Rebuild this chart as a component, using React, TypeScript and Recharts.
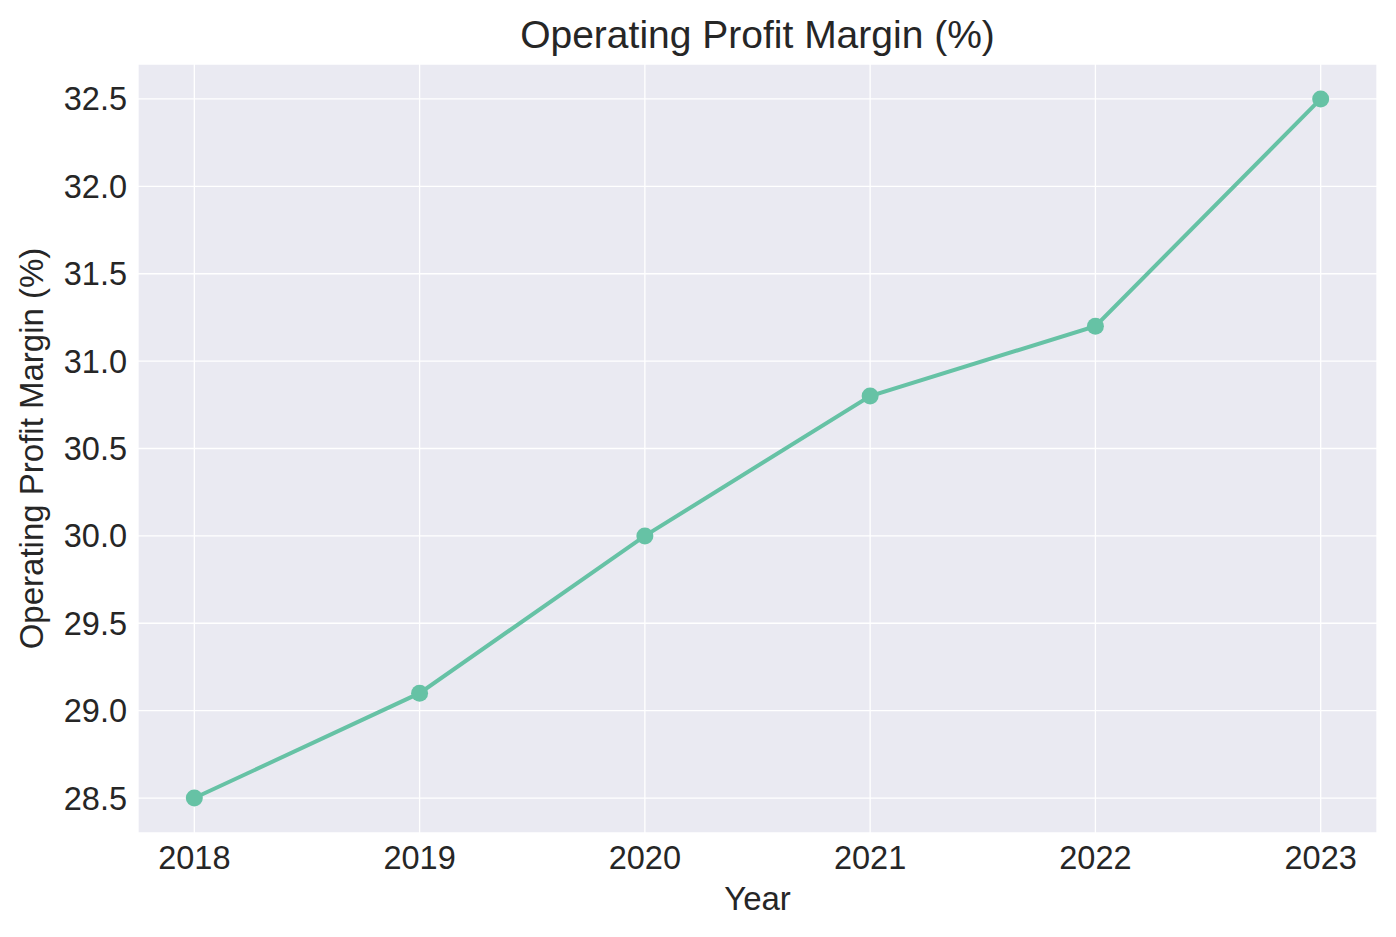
import React from 'react';
import { LineChart, Line, XAxis, YAxis, CartesianGrid } from 'recharts';

if (typeof document !== 'undefined') {
  document.body.style.margin = '0';
}

const years = [2018, 2019, 2020, 2021, 2022, 2023];
const margins = [28.5, 29.1, 30.0, 30.8, 31.2, 32.5];
const yTicks = [28.5, 29.0, 29.5, 30.0, 30.5, 31.0, 31.5, 32.0, 32.5];
const title = 'Operating Profit Margin (%)';
const xLabel = 'Year';
const yLabel = 'Operating Profit Margin (%)';

const data = years.map((y, i) => ({ year: y, value: margins[i] }));

const FONT = '"Liberation Sans", Arial, sans-serif';
const TEXT = '#262626';
const LINE = '#66c2a5';

export default function App() {
  return (
    <div style={{ width: 1396, height: 937, background: '#fff' }}>
      <LineChart
        width={1396}
        height={937}
        data={data}
        margin={{ top: 64, right: 19, left: 0, bottom: 0 }}
      >
        <CartesianGrid stroke="#ffffff" strokeWidth={1.3} fill="#eaeaf2" fillOpacity={1} />
        <XAxis
          dataKey="year"
          type="number"
          domain={[2017.75, 2023.25]}
          ticks={years}
          allowDataOverflow
          height={104}
          axisLine={false}
          tickLine={false}
          tickSize={0}
          tickMargin={13}
          tick={{ fill: TEXT, fontSize: 32.5, fontFamily: FONT }}
          label={{ value: xLabel, position: 'insideBottom', offset: 27, fill: TEXT, fontSize: 33, fontFamily: FONT }}
        />
        <YAxis
          type="number"
          domain={[28.3, 32.7]}
          ticks={yTicks}
          allowDataOverflow
          width={138}
          axisLine={false}
          tickLine={false}
          tickSize={0}
          tickMargin={11}
          tickFormatter={(v: number) => v.toFixed(1)}
          tick={{ fill: TEXT, fontSize: 32.5, fontFamily: FONT }}
          label={{ value: yLabel, angle: -90, position: 'insideLeft', offset: 31, fill: TEXT, fontSize: 33, fontFamily: FONT, style: { textAnchor: 'middle' } }}
        />
        <Line
          dataKey="value"
          stroke={LINE}
          strokeWidth={4}
          dot={{ r: 8.5, fill: LINE, stroke: LINE, strokeWidth: 0 }}
          activeDot={false}
          isAnimationActive={false}
        />
        <text x={757.5} y={48} textAnchor="middle" fill={TEXT} fontSize={39} fontFamily={FONT}>
          {title}
        </text>
      </LineChart>
    </div>
  );
}
